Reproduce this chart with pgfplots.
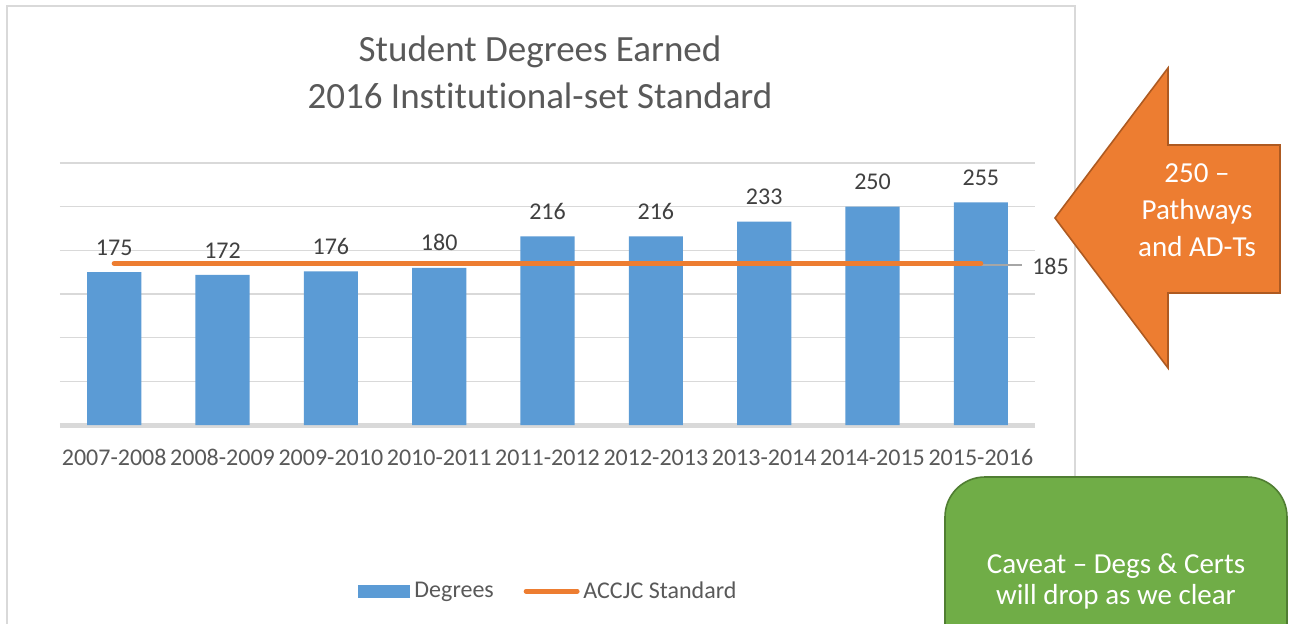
\documentclass[border=0pt]{standalone}
\usepackage{fontspec}
\setmainfont{Carlito}[Ligatures={NoCommon}]
\usepackage{pgfplots}
\pgfplotsset{compat=1.18}
\definecolor{barblue}{HTML}{5B9BD5}
\definecolor{stdorange}{HTML}{ED7D31}
\definecolor{orangedark}{HTML}{AE5A21}
\definecolor{cgreen}{HTML}{70AD47}
\definecolor{greendark}{HTML}{507E32}
\definecolor{gridgray}{HTML}{D9D9D9}
\definecolor{leadgray}{HTML}{A6A6A6}
\definecolor{txtgray}{HTML}{595959}
\definecolor{lblgray}{HTML}{404040}
\begin{document}
\begin{tikzpicture}
\useasboundingbox (0,0) rectangle (967.5pt,-468pt);
\clip (0,0) rectangle (967.5pt,-468pt);
\begin{scope}[x=0.75pt,y=-0.75pt]
\fill[white] (0,0) rectangle (1290,624);
\draw[gridgray, line width=1.5pt] (7,6) rectangle (1075,700);
\node[text=txtgray, font=\fontsize{27.75}{33}\selectfont, anchor=base, inner sep=0pt] at (540,62) {Student Degrees Earned};
\node[text=txtgray, font=\fontsize{27.75}{33}\selectfont, anchor=base, inner sep=0pt] at (540,109) {2016 Institutional-set Standard};
\end{scope}

\begin{axis}[
  at={(45pt,-318.75pt)}, anchor=south west,
  scale only axis, width=731.25pt, height=196.5pt,
  xmin=-0.5, xmax=8.5, ymin=0, ymax=300,
  axis x line*=bottom, axis y line*=left,
  y axis line style={draw=none},
  x axis line style={gridgray, line width=3.75pt},
  ytick={0,50,...,300}, yticklabels={},
  ymajorgrids, grid style={gridgray, line width=1pt},
  major tick length=0pt,
  xtick={0,...,8},
  xticklabels={2007-2008,2008-2009,2009-2010,2010-2011,2011-2012,2012-2013,2013-2014,2014-2015,2015-2016},
  xticklabel style={anchor=base, inner sep=0pt, yshift=-30pt, font=\fontsize{18}{21}\selectfont, text=txtgray},
  clip=false,
  /pgf/number format/assume math mode=true,
  legend columns=2,
  legend style={at={(0.5015,-0.634)}, anchor=center, draw=none, fill=none,
    font=\fontsize{18}{21}\selectfont\color{txtgray},
    nodes={inner xsep=2.5pt, inner ysep=1.5pt},
    /tikz/every even column/.append style={column sep=18pt}},
]
\addplot[ybar, bar width=0.5, fill=barblue, draw=none,
  nodes near coords,
  every node near coord/.append style={font=\fontsize{18}{21}\selectfont, text=lblgray, yshift=9pt},
  legend image code/.code={\fill[barblue] (0pt,-4.875pt) rectangle (39pt,4.875pt); \path (0pt,0pt) (39.75pt,0pt);}]
  coordinates {(0,175) (1,172) (2,176) (3,180) (4,216) (5,216) (6,233) (7,250) (8,255)};
\addlegendentry{Degrees}
\addplot[forget plot, leadgray, line width=1.5pt, yshift=-1.5pt] coordinates {(0,185) (8.38,185)};
\addplot[stdorange, line width=3.75pt, line cap=round,
  legend image code/.code={\draw[stdorange, line width=3.75pt, line cap=round] (1.9pt,0pt) -- (40.1pt,0pt); \path (0pt,0pt) (40.5pt,0pt);}]
  coordinates {(0,185) (8,185)};
\addlegendentry{ACCJC Standard}
\node[anchor=base west, inner sep=0pt, font=\fontsize{18}{21}\selectfont, text=lblgray, xshift=7.5pt, yshift=-8pt] at (axis cs:8.38,185) {185};
\end{axis}

\begin{scope}[x=0.75pt,y=-0.75pt]
\filldraw[fill=stdorange, draw=orangedark, line width=1.2pt, line join=miter]
  (1055,218) -- (1168,68) -- (1168,145) -- (1280,145) -- (1280,293) -- (1168,293) -- (1168,368) -- cycle;
\node[text=white, font=\fontsize{21.75}{26}\selectfont, anchor=base, inner sep=0pt] at (1197,183) {250 –};
\node[text=white, font=\fontsize{21.75}{26}\selectfont, anchor=base, inner sep=0pt] at (1197,220) {Pathways};
\node[text=white, font=\fontsize{21.75}{26}\selectfont, anchor=base, inner sep=0pt] at (1197,257) {and AD-Ts};
\filldraw[fill=cgreen, draw=greendark, line width=1.2pt, rounded corners=30pt] (945,477) rectangle (1287,720);
\node[text=white, font=\fontsize{21.75}{26}\selectfont, anchor=base, inner sep=0pt] at (1116,573) {Caveat – Degs \& Certs};
\node[text=white, font=\fontsize{21.75}{26}\selectfont, anchor=base, inner sep=0pt] at (1116,604) {will drop as we clear};
\end{scope}
\end{tikzpicture}
\end{document}
